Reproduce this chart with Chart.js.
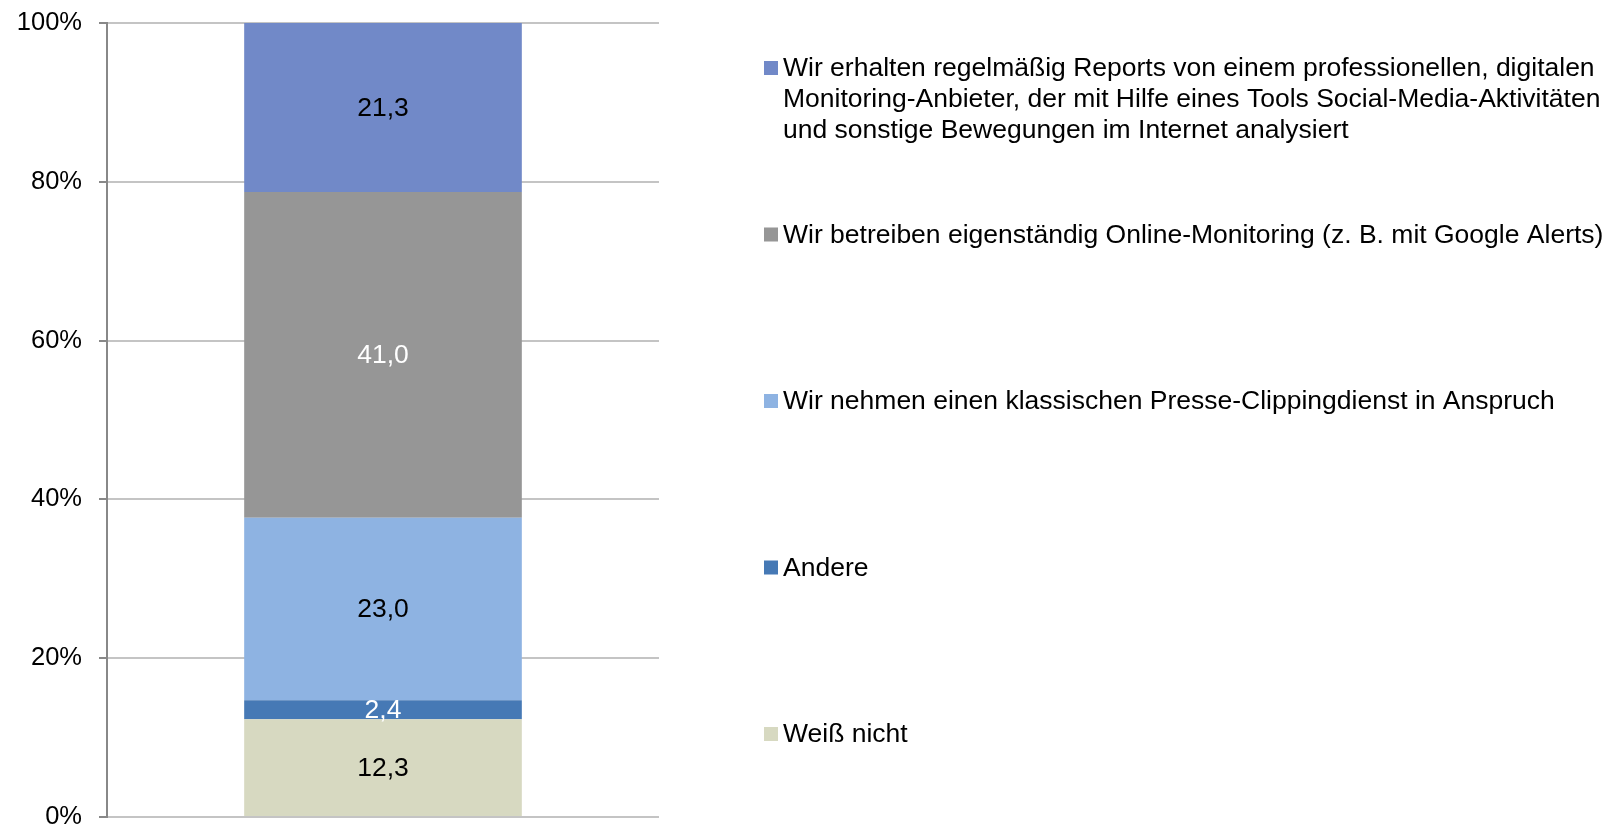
<!DOCTYPE html>
<html lang="de">
<head>
<meta charset="utf-8">
<title>Online-Monitoring</title>
<script src="https://cdn.jsdelivr.net/npm/chart.js@4/dist/chart.umd.min.js"></script>
<style>
    html, body { margin: 0; padding: 0; background: #fff; }
    canvas { display: block; }
</style>
</head>
<body>
<canvas id="myChart" width="1621" height="828"></canvas>
<script>
// Anteile in %, von unten nach oben gestapelt
const categories = [''];

const seriesNames = [
    ['Weiß nicht'],
    ['Andere'],
    ['Wir nehmen einen klassischen Presse-Clippingdienst in Anspruch'],
    ['Wir betreiben eigenständig Online-Monitoring (z. B. mit Google Alerts)'],
    ['Wir erhalten regelmäßig Reports von einem professionellen, digitalen',
     'Monitoring-Anbieter, der mit Hilfe eines Tools Social-Media-Aktivitäten',
     'und sonstige Bewegungen im Internet analysiert']
];

const weissNicht = [12.3];
const andere = [2.4];
const presseClipping = [23.0];
const eigenstaendig = [41.0];
const reports = [21.3];

const seriesValues = [weissNicht, andere, presseClipping, eigenstaendig, reports];

const yTicks = [0, 20, 40, 60, 80, 100];

const barColors = ['#d7d9c1', '#4679b5', '#8eb3e2', '#969696', '#7189c8'];
const valueColors = ['#000', '#fff', '#000', '#fff', '#000'];

const FONT = '"Liberation Sans", Arial, Helvetica, sans-serif';

const data = {
    labels: categories,
    datasets: seriesValues.map((vals, i) => ({
        label: seriesNames[i].join(' '),
        lines: seriesNames[i],
        data: vals,
        backgroundColor: barColors[i],
        valueColor: valueColors[i],
        borderWidth: 0,
        categoryPercentage: 1,
        barPercentage: 0.503
    }))
};

// Werte mittig in die Segmente schreiben
const valueLabels = {
    id: 'valueLabels',
    afterDatasetsDraw(chart) {
        const ctx = chart.ctx;
        ctx.save();
        ctx.font = '26.5px ' + FONT;
        ctx.textAlign = 'center';
        ctx.textBaseline = 'middle';
        chart.data.datasets.forEach((ds, i) => {
            chart.getDatasetMeta(i).data.forEach((bar, j) => {
                const p = bar.getCenterPoint();
                ctx.fillStyle = ds.valueColor;
                ctx.fillText(ds.data[j].toFixed(1).replace('.', ','), p.x, p.y + 1);
            });
        });
        ctx.restore();
    }
};

// Legende rechts, oberstes Segment zuerst
const sideLegend = {
    id: 'sideLegend',
    afterDraw(chart) {
        const ctx = chart.ctx;
        const x = chart.chartArea.right + 105;
        const startY = 68;
        const step = 166.5;
        const lineHeight = 31;
        ctx.save();
        ctx.font = '26.5px ' + FONT;
        ctx.textAlign = 'left';
        ctx.textBaseline = 'middle';
        const list = chart.data.datasets.slice().reverse();
        list.forEach((ds, k) => {
            const y = startY + k * step;
            ctx.fillStyle = ds.backgroundColor;
            ctx.fillRect(x, y - 7, 14, 14);
            ctx.fillStyle = '#000';
            ds.lines.forEach((line, n) => {
                ctx.fillText(line, x + 19, y + 1 + n * lineHeight);
            });
        });
        ctx.restore();
    }
};

const config = {
    type: 'bar',
    data: data,
    options: {
        responsive: false,
        animation: false,
        layout: {
            padding: { left: 17, top: 23, right: 962, bottom: 11 }
        },
        plugins: {
            legend: { display: false },
            tooltip: { enabled: false }
        },
        scales: {
            x: {
                stacked: true,
                display: false
            },
            y: {
                stacked: true,
                min: 0,
                max: 100,
                afterBuildTicks(scale) {
                    scale.ticks = yTicks.map(v => ({ value: v }));
                },
                afterFit(scale) {
                    scale.width = 90;
                    scale.paddingTop = 0;
                    scale.paddingBottom = 0;
                },
                ticks: {
                    color: '#000',
                    padding: 17,
                    font: { family: FONT, size: 25.5 },
                    callback: v => v + '%'
                },
                grid: {
                    color: '#c4c4c4',
                    lineWidth: 2,
                    tickColor: '#888',
                    tickLength: 8
                },
                border: {
                    color: '#888',
                    width: 2
                }
            }
        }
    },
    plugins: [valueLabels, sideLegend]
};

const myChart = new Chart(
    document.getElementById('myChart'),
    config
);
</script>
</body>
</html>
